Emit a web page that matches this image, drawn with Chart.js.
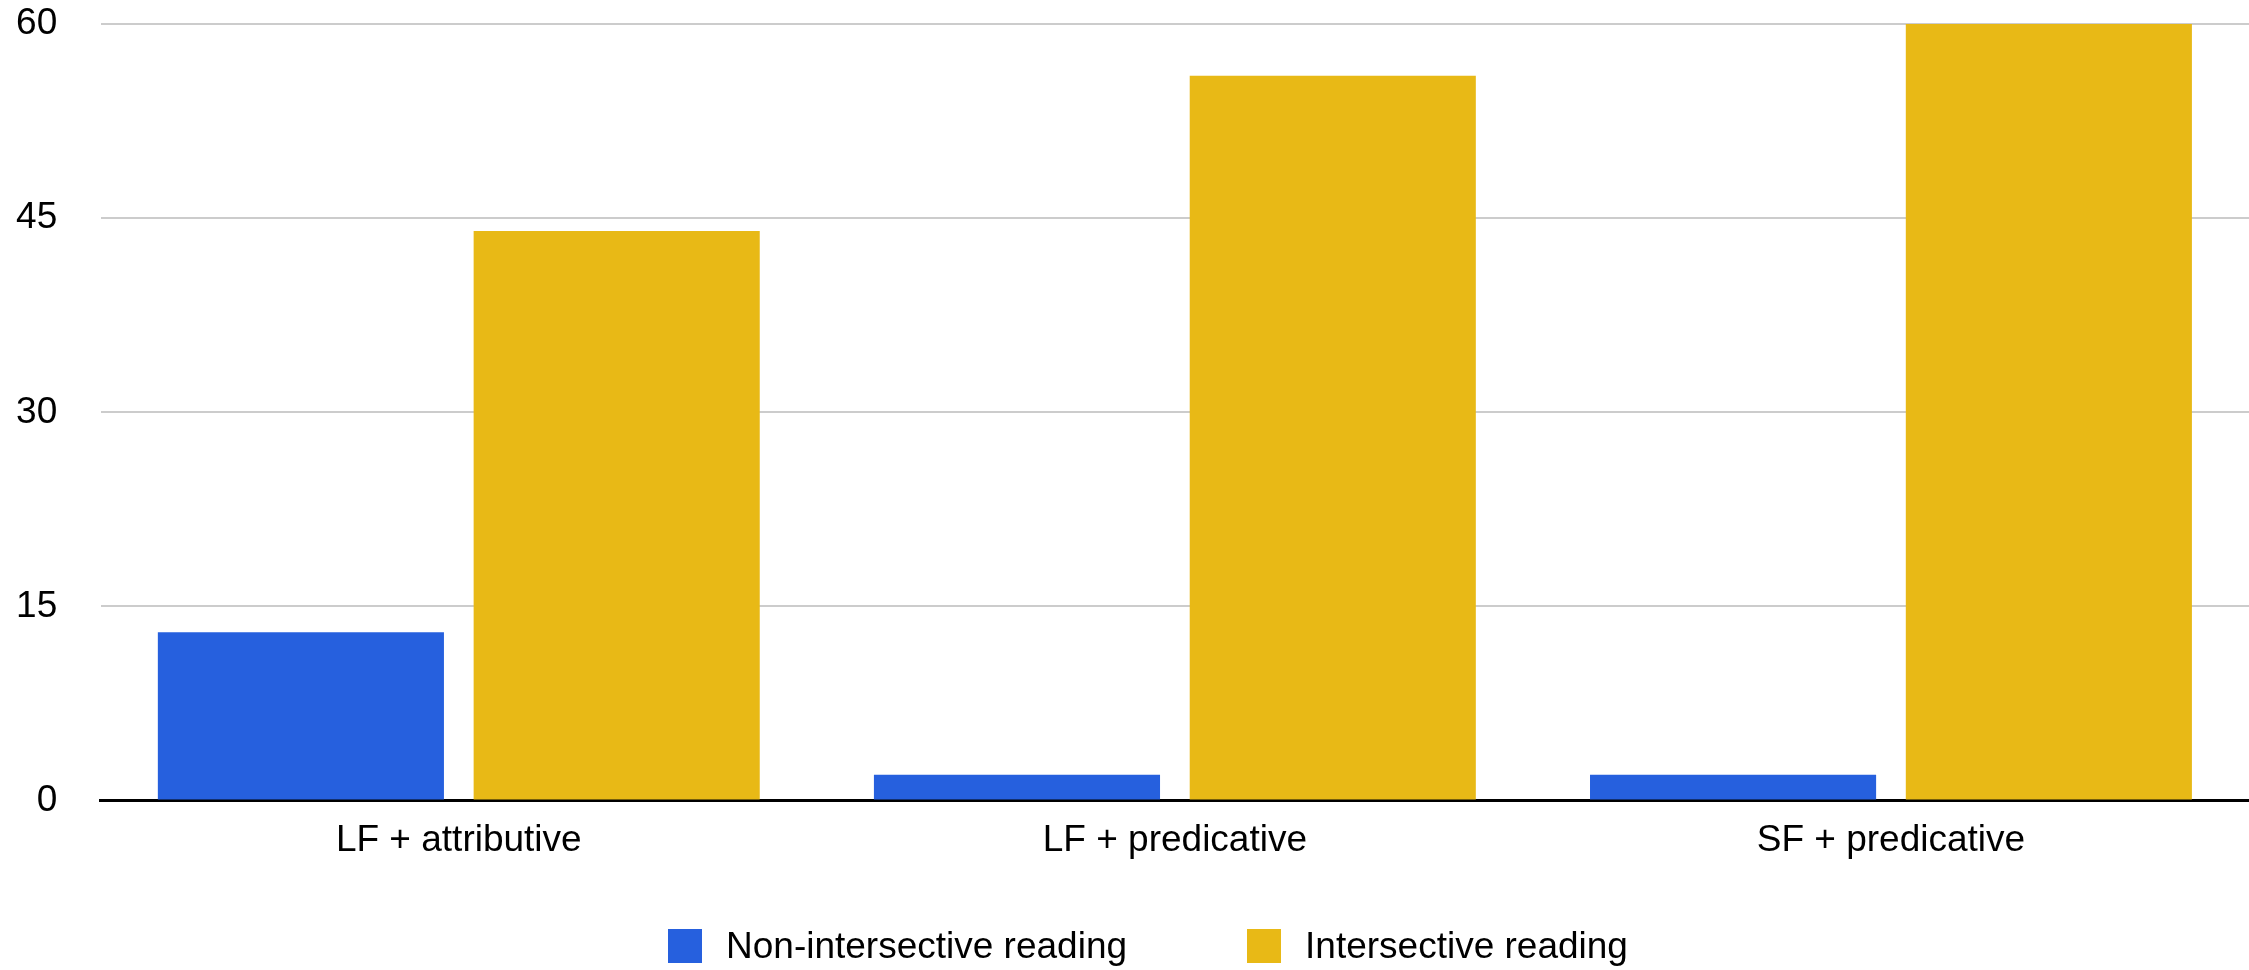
<!DOCTYPE html>
<html>
<head>
<meta charset="utf-8">
<title>Readings by form and position</title>
<script src="https://cdn.jsdelivr.net/npm/chart.js@4/dist/chart.umd.min.js"></script>
<style>
  html, body { margin: 0; padding: 0; background: #ffffff; }
  #wrap { position: relative; width: 2249px; height: 970px; overflow: hidden; }
  #chart { position: absolute; left: 0; top: 0; }
  #legend {
    position: absolute; left: 668px; top: 929px;
    display: flex; align-items: center;
    font-family: 'Liberation Sans', Arial, Helvetica, sans-serif;
    font-size: 37px; line-height: 34px; color: #000000;
    white-space: nowrap;
  }
  #legend .item { display: flex; align-items: center; height: 34px; }
  #legend .item + .item { margin-left: 120px; }
  #legend .swatch { width: 34px; height: 34px; margin-right: 24px; flex: none; }
</style>
</head>
<body>
<div id="wrap">
  <canvas id="chart" width="2249" height="970"></canvas>
  <div id="legend"></div>
</div>
<script>
// Categories and counts per reading type
const categories = ['LF + attributive', 'LF + predicative', 'SF + predicative'];
const nonIntersective = [13, 2, 2];
const intersective = [44, 56, 60];
const seriesNames = ['Non-intersective reading', 'Intersective reading'];
const yTickValues = [0, 15, 30, 45, 60];

const FONT = "'Liberation Sans', Arial, Helvetica, sans-serif";

// Builds the legend as HTML items from the chart's own legend labels
const htmlLegend = {
  id: 'htmlLegend',
  afterUpdate(chart) {
    const box = document.getElementById('legend');
    box.innerHTML = '';
    const items = chart.options.plugins.legend.labels.generateLabels(chart);
    items.forEach(item => {
      const row = document.createElement('div');
      row.className = 'item';
      const swatch = document.createElement('span');
      swatch.className = 'swatch';
      swatch.style.background = item.fillStyle;
      const text = document.createElement('span');
      text.textContent = item.text;
      row.appendChild(swatch);
      row.appendChild(text);
      box.appendChild(row);
    });
  }
};

new Chart(document.getElementById('chart'), {
  type: 'bar',
  data: {
    labels: categories,
    datasets: [
      {
        label: seriesNames[0],
        data: nonIntersective,
        backgroundColor: '#2660de',
        borderWidth: 0
      },
      {
        label: seriesNames[1],
        data: intersective,
        backgroundColor: '#e8b916',
        borderWidth: 0
      }
    ]
  },
  options: {
    responsive: false,
    devicePixelRatio: 1,
    animation: false,
    datasets: {
      bar: { categoryPercentage: 0.882, barPercentage: 0.906 }
    },
    layout: {
      padding: { top: 24, left: 10, right: -7, bottom: 89 }
    },
    scales: {
      x: {
        grid: { display: false, drawTicks: false },
        border: { display: true, color: '#000000', width: 3 },
        ticks: {
          color: '#000000',
          padding: 18,
          font: { family: FONT, size: 37 }
        }
      },
      y: {
        min: yTickValues[0],
        max: yTickValues[yTickValues.length - 1],
        afterBuildTicks: (scale) => {
          scale.ticks = yTickValues.map(v => ({ value: v }));
        },
        grid: { color: '#cccccc', lineWidth: 2, drawTicks: false },
        border: { display: false },
        ticks: {
          color: '#000000',
          padding: 43.5,
          font: { family: FONT, size: 37 }
        },
        afterFit: (scale) => {
          scale.width = 90.75;
          scale.paddingTop = 0;
          scale.paddingBottom = 0;
        }
      }
    },
    plugins: {
      title: { display: false },
      tooltip: { enabled: false },
      legend: { display: false }
    }
  },
  plugins: [htmlLegend]
});
</script>
</body>
</html>
